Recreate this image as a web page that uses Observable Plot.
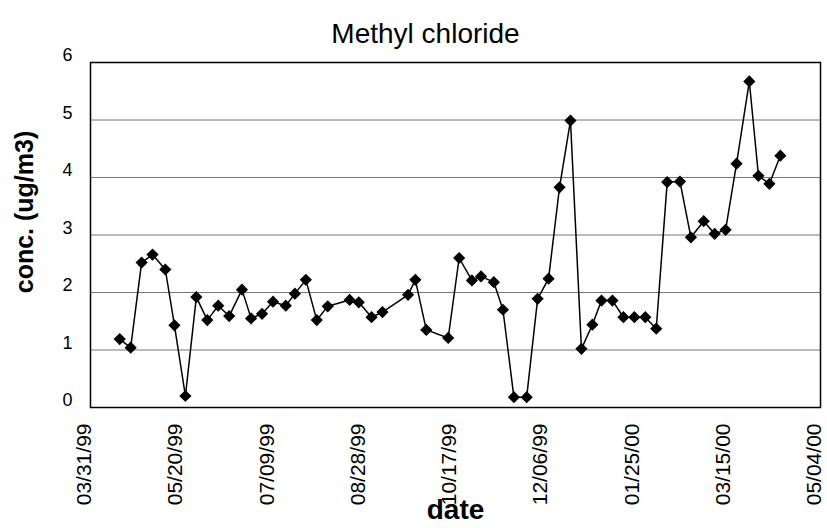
<!DOCTYPE html>
<html>
<head>
<meta charset="utf-8">
<script src="https://cdn.jsdelivr.net/npm/d3@7"></script>
<script src="https://cdn.jsdelivr.net/npm/@observablehq/plot@0.6"></script>
<style>
  html, body { margin: 0; padding: 0; background: #fff; }
  #chart { width: 827px; height: 528px; }
</style>
</head>
<body>
<div id="chart"></div>
<script>
const title = "Methyl chloride";
const yLabel = "conc. (ug/m3)";
const xLabel = "date";

const dates = [
  "1999-04-16","1999-04-22","1999-04-28","1999-05-04","1999-05-11","1999-05-16","1999-05-22","1999-05-28",
  "1999-06-03","1999-06-09","1999-06-15","1999-06-22","1999-06-27","1999-07-03","1999-07-09","1999-07-16",
  "1999-07-21","1999-07-27","1999-08-02","1999-08-08","1999-08-20","1999-08-25","1999-09-01","1999-09-07",
  "1999-09-21","1999-09-25","1999-10-01","1999-10-13","1999-10-19","1999-10-26","1999-10-31","1999-11-07",
  "1999-11-12","1999-11-18","1999-11-25","1999-12-01","1999-12-07","1999-12-13","1999-12-19","1999-12-25",
  "1999-12-31","2000-01-05","2000-01-11","2000-01-17","2000-01-23","2000-01-29","2000-02-04","2000-02-10",
  "2000-02-17","2000-02-23","2000-03-01","2000-03-07","2000-03-13","2000-03-19","2000-03-26","2000-03-31",
  "2000-04-06","2000-04-12"
];
const conc = [
  1.19, 1.04, 2.52, 2.66, 2.40, 1.43, 0.20, 1.92,
  1.52, 1.77, 1.59, 2.05, 1.55, 1.63, 1.84, 1.77,
  1.98, 2.22, 1.52, 1.76, 1.87, 1.83, 1.57, 1.66,
  1.96, 2.22, 1.35, 1.21, 2.60, 2.21, 2.28, 2.18,
  1.70, 0.18, 0.18, 1.89, 2.24, 3.83, 4.99, 1.02,
  1.44, 1.86, 1.86, 1.57, 1.57, 1.57, 1.37, 3.92,
  3.93, 2.96, 3.24, 3.02, 3.09, 4.24, 5.67, 4.03,
  3.89, 4.38
];
const xTicks = ["1999-03-31","1999-05-20","1999-07-09","1999-08-28","1999-10-17","1999-12-06","2000-01-25","2000-03-15","2000-05-04"];
const yTicks = [0, 1, 2, 3, 4, 5, 6];
const gridValues = [1, 2, 3, 4, 5];

const data = dates.map((d, i) => ({date: new Date(d), value: conc[i]}));
const tickDates = xTicks.map(d => new Date(d));
const fmt = d3.utcFormat("%m/%d/%y");

const chart = Plot.plot({
  width: 827,
  height: 528,
  marginLeft: 90,
  marginRight: 7,
  marginTop: 62,
  marginBottom: 121,
  style: {fontFamily: "'Liberation Sans', Arial, sans-serif", background: "#fff", color: "#000"},
  x: {type: "utc", domain: [tickDates[0], tickDates[tickDates.length - 1]]},
  y: {domain: [0, 6]},
  marks: [
    Plot.ruleY(gridValues, {stroke: "#777", strokeWidth: 1}),
    Plot.frame({stroke: "#000", strokeWidth: 1.5}),
    Plot.axisY({ticks: yTicks, tickFormat: d => String(d), tickSize: 0, tickPadding: 18, dy: -7, fontSize: 18, label: null}),
    Plot.axisX({ticks: tickDates, tickFormat: fmt, tickRotate: -90, tickSize: 0, tickPadding: 16, dx: -6, fontSize: 21, label: null}),
    Plot.line(data, {x: "date", y: "value", stroke: "#000", strokeWidth: 1.5}),
    Plot.dot(data, {x: "date", y: "value", symbol: "diamond2", r: 5.5, fill: "#000", stroke: "none"}),
    Plot.text([title], {frameAnchor: "top", dx: -30, dy: -39, fontSize: 28, fill: "#000"}),
    Plot.text([yLabel], {frameAnchor: "left", textAnchor: "middle", dx: -66, dy: -23, rotate: -90, fontSize: 25, fontWeight: "bold", fill: "#000"}),
    Plot.text([xLabel], {frameAnchor: "bottom", dy: 111, fontSize: 28, fontWeight: "bold", fill: "#000"})
  ]
});
document.getElementById("chart").appendChild(chart);
</script>
</body>
</html>
